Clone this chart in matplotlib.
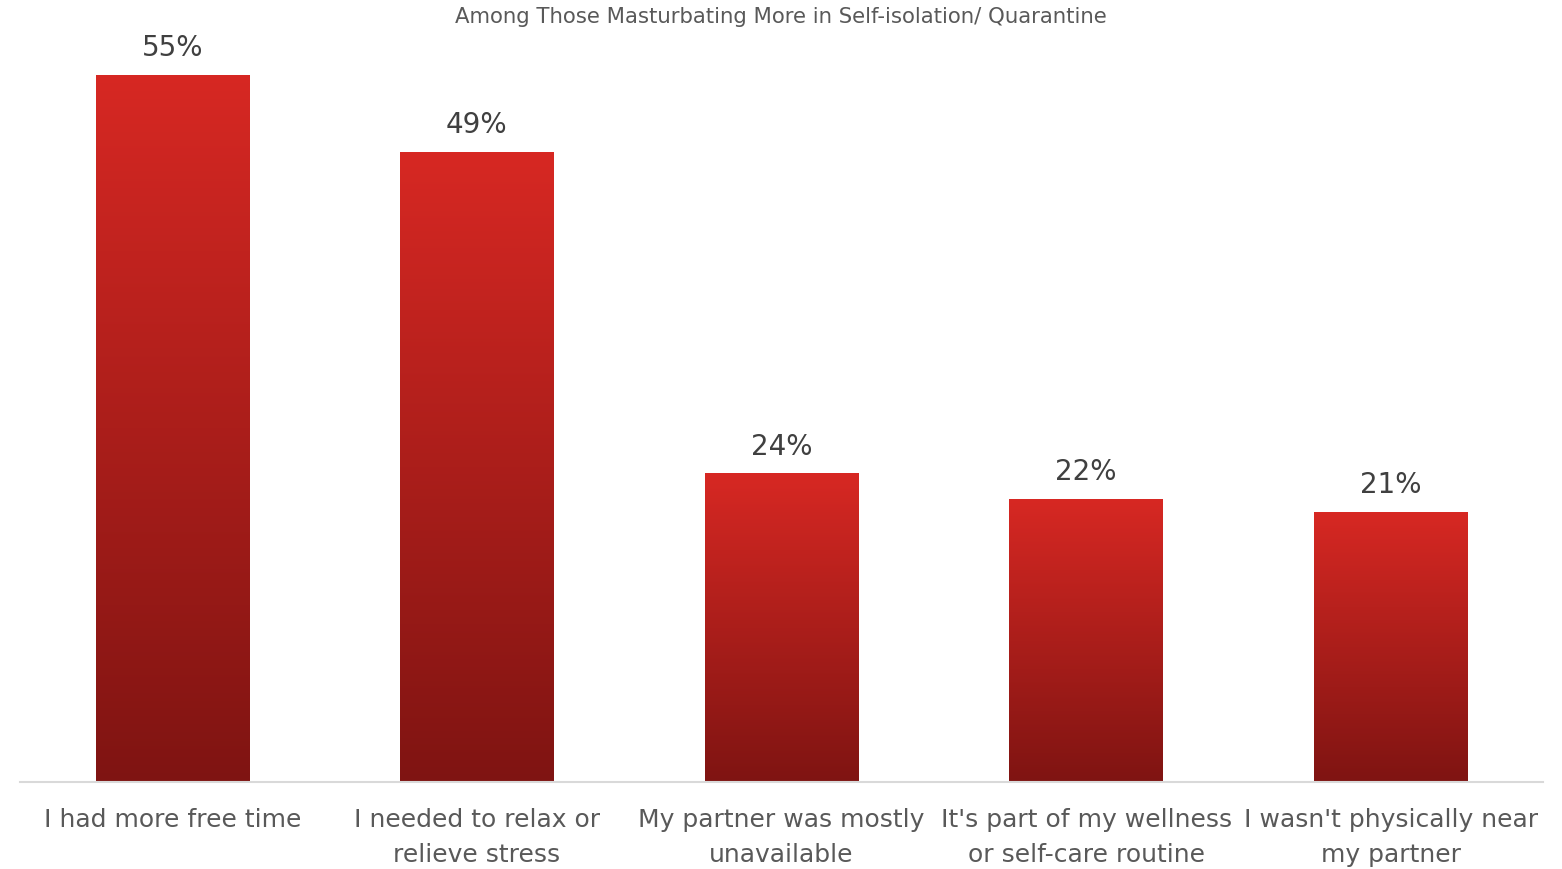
import matplotlib.pyplot as plt
import numpy as np
from matplotlib.colors import LinearSegmentedColormap

categories = ["I had more free time", "I needed to relax or\nrelieve stress",
              "My partner was mostly\nunavailable", "It's part of my wellness\nor self-care routine",
              "I wasn't physically near\nmy partner"]
values = [55, 49, 24, 22, 21]
title = "Among Those Masturbating More in Self-isolation/ Quarantine"

plt.rcParams['font.family'] = ['DejaVu Sans']
text_color = '#595959'

fig = plt.figure(figsize=(15.62, 8.69), dpi=100)
ax = fig.add_axes([20 / 1562, 87 / 869, 1523 / 1562, 752 / 869])

cmap = LinearSegmentedColormap.from_list('redgrad', ['#7F1412', '#D72823'])
grad = np.linspace(0, 1, 256).reshape(-1, 1)

x = np.arange(len(values))
bars = ax.bar(x, values, width=0.503, color='none', edgecolor='none')
for b in bars:
    x0, y0 = b.get_x(), b.get_y()
    w, h = b.get_width(), b.get_height()
    im = ax.imshow(grad, cmap=cmap, aspect='auto', origin='lower',
                   extent=[x0, x0 + w, y0, y0 + h], zorder=2)
    im.set_clip_path(b)

for xi, v in zip(x, values):
    ax.text(xi, v + 1.0, f"{v}%", ha='center', va='bottom', fontsize=20, color='#404040')

ax.set_xlim(-0.5, len(values) - 0.5)
ax.set_ylim(0, 58.5)
ax.set_xticks(x)
ax.set_xticklabels(categories, fontsize=18, color=text_color, linespacing=1.55)
ax.tick_params(axis='x', length=0, pad=19)
ax.set_yticks([])
for s in ['top', 'right', 'left']:
    ax.spines[s].set_visible(False)
ax.spines['bottom'].set_color('#D9D9D9')
ax.spines['bottom'].set_linewidth(1.5)

fig.text(781 / 1562, 1 - 17 / 869, title, ha='center', va='center', fontsize=15.3, color=text_color)

fig.savefig('out.png', dpi=100, facecolor='white')
